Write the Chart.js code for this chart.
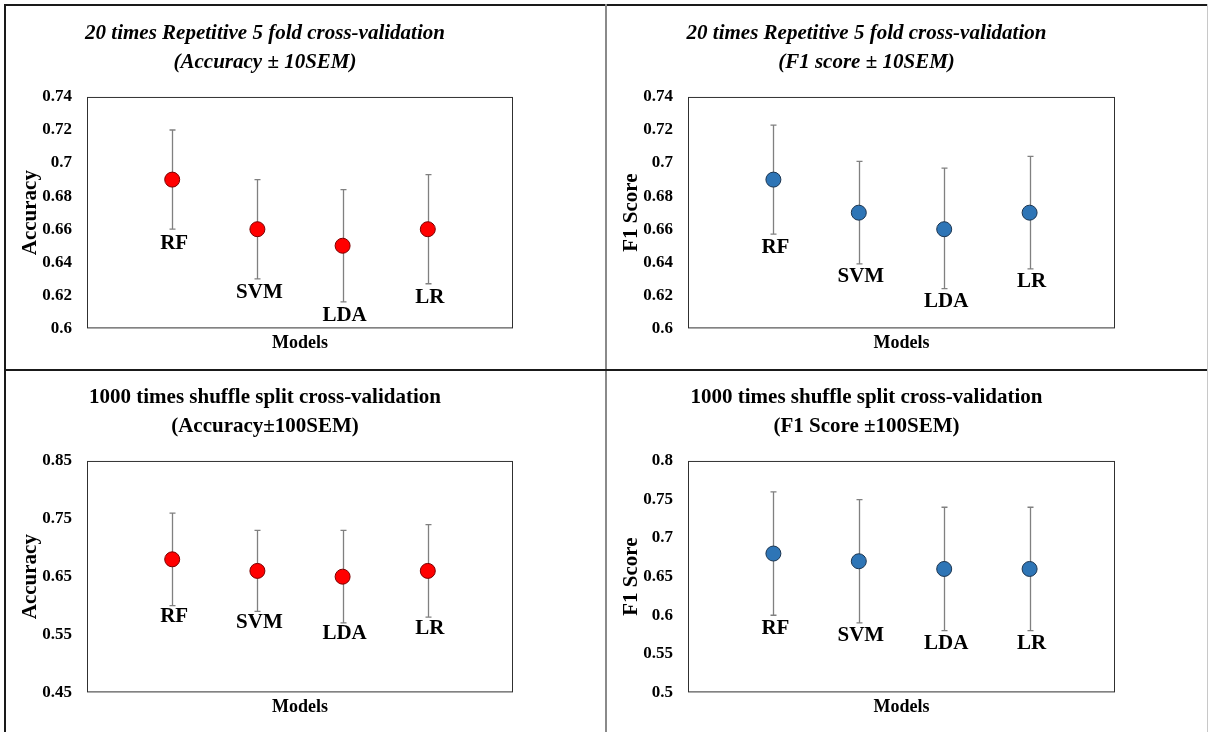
<!DOCTYPE html>
<html>
<head>
<meta charset="utf-8">
<script src="https://cdn.jsdelivr.net/npm/chart.js@4"></script>
<style>
  body { margin: 0; background: #fff; }
  .line { position: absolute; }
  canvas { position: absolute; }
</style>
</head>
<body>
<div class="line" style="left:4px;top:4px;width:1204px;height:2px;background:#1a1a1a"></div>
<div class="line" style="left:4px;top:4px;width:2px;height:728px;background:#1a1a1a"></div>
<div class="line" style="left:605px;top:4px;width:2px;height:728px;background:#8a8a8a"></div>
<div class="line" style="left:4px;top:369px;width:1204px;height:2px;background:#1a1a1a"></div>
<div class="line" style="left:1207px;top:4px;width:1px;height:728px;background:#c8c8c8"></div>

<canvas id="c1" width="516" height="360" style="left:7px;top:7px"></canvas>
<canvas id="c2" width="517" height="360" style="left:608px;top:7px"></canvas>
<canvas id="c3" width="516" height="360" style="left:7px;top:371px"></canvas>
<canvas id="c4" width="517" height="360" style="left:608px;top:371px"></canvas>

<script>
const models = ['RF', 'SVM', 'LDA', 'LR'];

// 20 times repeated 5 fold CV
const acc10 = [0.69, 0.66, 0.65, 0.66];
const acc10Lo = [0.66, 0.63, 0.616, 0.627];
const acc10Hi = [0.72, 0.69, 0.684, 0.693];
const f1_10 = [0.69, 0.67, 0.66, 0.67];
const f1_10Lo = [0.657, 0.639, 0.624, 0.636];
const f1_10Hi = [0.723, 0.701, 0.697, 0.704];

// 1000 times shuffle split
const acc100 = [0.68, 0.66, 0.65, 0.66];
const acc100Lo = [0.60, 0.59, 0.57, 0.58];
const acc100Hi = [0.76, 0.73, 0.73, 0.74];
const f1_100 = [0.68, 0.67, 0.66, 0.66];
const f1_100Lo = [0.60, 0.59, 0.58, 0.58];
const f1_100Hi = [0.76, 0.75, 0.74, 0.74];

const ticks10 = [0.6, 0.62, 0.64, 0.66, 0.68, 0.7, 0.72, 0.74];
const ticksAcc100 = [0.45, 0.55, 0.65, 0.75, 0.85];
const ticksF1100 = [0.5, 0.55, 0.6, 0.65, 0.7, 0.75, 0.8];

const SERIF = '"Liberation Serif", "Times New Roman", serif';

// error bars under the points, model names under the bars, box round the plot
const errorBars = {
  id: 'errorBars',
  beforeDatasetsDraw(chart, args, opts) {
    const { ctx, scales: { x, y } } = chart;
    ctx.save();
    ctx.strokeStyle = '#808080';
    ctx.lineWidth = 1.3;
    opts.lo.forEach((lo, i) => {
      const px = Math.round(x.getPixelForValue(i + 1)) + 0.5;
      const top = y.getPixelForValue(opts.hi[i]);
      const bot = y.getPixelForValue(lo);
      ctx.beginPath();
      ctx.moveTo(px, top); ctx.lineTo(px, bot);
      ctx.moveTo(px - 3, top); ctx.lineTo(px + 3, top);
      ctx.moveTo(px - 3, bot); ctx.lineTo(px + 3, bot);
      ctx.stroke();
    });
    ctx.restore();
  },
  afterDatasetsDraw(chart, args, opts) {
    const { ctx, scales: { x, y }, chartArea } = chart;
    ctx.save();
    ctx.fillStyle = '#000';
    ctx.font = 'bold 21px ' + SERIF;
    ctx.textAlign = 'center';
    ctx.textBaseline = 'middle';
    opts.lo.forEach((lo, i) => {
      const px = x.getPixelForValue(i + 1);
      const bot = y.getPixelForValue(lo);
      ctx.fillText(models[i], px + 2, bot + opts.gap);
    });
    ctx.strokeStyle = '#303030';
    ctx.lineWidth = 1;
    ctx.strokeRect(chartArea.left + 0.5, chartArea.top + 0.5,
      chartArea.right - chartArea.left - 1, chartArea.bottom - chartArea.top - 1);
    ctx.restore();
  }
};

function makeChart(id, title, italic, yTitle, values, lo, hi, yTicks, fill, edge, gap) {
  const points = values.map((v, i) => ({ x: i + 1, y: v }));
  new Chart(document.getElementById(id), {
    type: 'scatter',
    data: {
      datasets: [{
        data: points,
        pointRadius: 7.5,
        backgroundColor: fill,
        borderColor: edge,
        borderWidth: 1
      }]
    },
    options: {
      responsive: false,
      animation: false,
      events: [],
      plugins: {
        legend: { display: false },
        tooltip: { enabled: false },
        title: {
          display: true,
          text: title,
          color: '#000',
          font: { family: SERIF, size: 21, weight: 'bold', style: italic ? 'italic' : 'normal', lineHeight: 1.38 },
          padding: { top: 12, bottom: 20 }
        },
        errorBars: { lo: lo, hi: hi, gap: gap }
      },
      scales: {
        x: {
          type: 'linear',
          min: 0,
          max: 5,
          ticks: { display: false },
          grid: { display: false, drawTicks: false },
          border: { display: false },
          title: {
            display: true,
            text: 'Models',
            color: '#000',
            font: { family: SERIF, size: 18, weight: 'bold' },
            padding: { top: 4, bottom: 13 }
          }
        },
        y: {
          min: yTicks[0],
          max: yTicks[yTicks.length - 1],
          afterBuildTicks: s => { s.ticks = yTicks.map(v => ({ value: v })); },
          afterFit: s => { s.width = 80; },
          ticks: {
            color: '#000',
            padding: 15,
            font: { family: SERIF, size: 17, weight: 'bold' },
            callback: v => String(v)
          },
          grid: { display: false, drawTicks: false },
          border: { display: false },
          title: {
            display: true,
            text: yTitle,
            color: '#000',
            font: { family: SERIF, size: 21, weight: 'bold' },
            padding: { top: 11 }
          }
        },
        pad: {
          type: 'linear',
          position: 'right',
          ticks: { display: false },
          grid: { display: false, drawTicks: false },
          border: { display: false },
          afterFit: s => { s.width = 10; }
        }
      }
    },
    plugins: [errorBars]
  });
}

makeChart('c1', ['20 times Repetitive 5 fold cross-validation', '(Accuracy ± 10SEM)'], true,
  'Accuracy', acc10, acc10Lo, acc10Hi, ticks10, '#ff0000', '#7a0000', 14);
makeChart('c2', ['20 times Repetitive 5 fold cross-validation', '(F1 score ± 10SEM)'], true,
  'F1 Score', f1_10, f1_10Lo, f1_10Hi, ticks10, '#2e75b6', '#1c3550', 13);
makeChart('c3', ['1000 times shuffle split cross-validation', '(Accuracy±100SEM)'], false,
  'Accuracy', acc100, acc100Lo, acc100Hi, ticksAcc100, '#ff0000', '#7a0000', 11);
makeChart('c4', ['1000 times shuffle split cross-validation', '(F1 Score ±100SEM)'], false,
  'F1 Score', f1_100, f1_100Lo, f1_100Hi, ticksF1100, '#2e75b6', '#1c3550', 13);
</script>
</body>
</html>
